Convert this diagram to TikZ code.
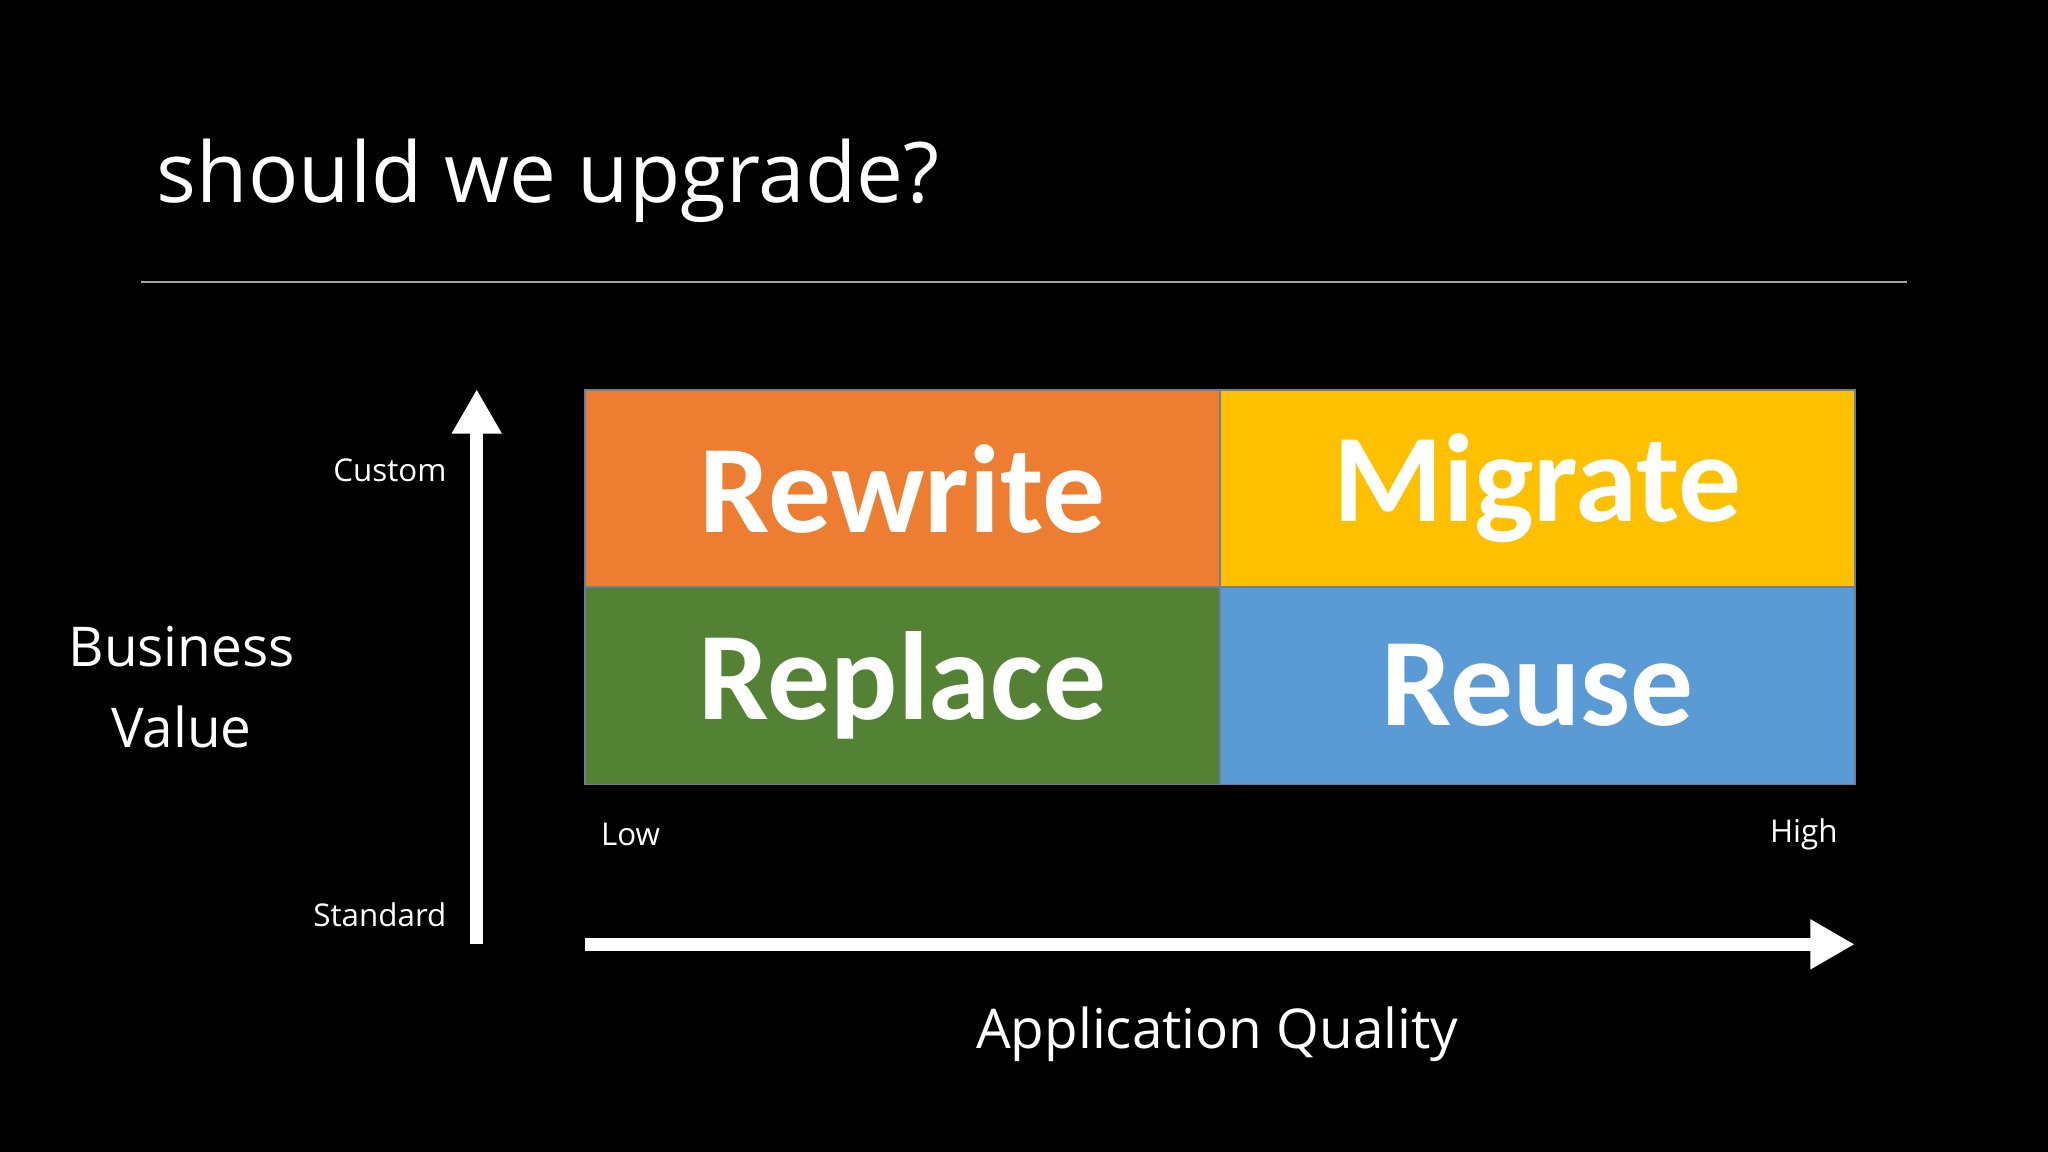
\documentclass[tikz,border=0pt]{standalone}
\usepackage{fontspec}
\setmainfont{Open Sans}
\newfontfamily\boxfont{Carlito}
\usetikzlibrary{arrows.meta}
\definecolor{cOr}{HTML}{ED7D31}
\definecolor{cYe}{HTML}{FFC000}
\definecolor{cGr}{HTML}{548235}
\definecolor{cBl}{HTML}{5B9BD5}
\definecolor{cEdge}{HTML}{6A7FA0}
\begin{document}
\begin{tikzpicture}[x=1pt,y=-1pt,
  cell/.style={draw=cEdge,line width=1.2pt,minimum width=486pt,minimum height=151pt,inner sep=0pt,text=white,font=\boxfont\bfseries\fontsize{96}{96}\selectfont},
  lbl/.style={text=white,font=\fontsize{24}{28}\selectfont,inner sep=0pt},
  big/.style={text=white,font=\fontsize{42}{62}\selectfont,inner sep=0pt,align=center},
  axis/.style={white,line width=10pt,-{Triangle[length=34pt,width=36pt]}}]
\fill[black] (0,0) rectangle (1568,882);
\useasboundingbox (0,0) rectangle (1568,882);
\node[text=white,anchor=base west,inner sep=0pt,font=\fontsize{64}{70}\selectfont] (title) at (120,155) {should we upgrade?};
\coordinate (l1) at (108,216); \coordinate (l2) at (1460,216);
\draw[gray!70,line width=2pt] (l1) -- (l2);
\node[cell,fill=cOr] (rw) at (691,374) {Rewrite};
\node[cell,fill=cYe] (mg) at (1177,374) {Migrate};
\node[cell,fill=cGr] (rp) at (691,525) {Replace};
\node[cell,fill=cBl] (ru) at (1177,525) {Reuse};
\coordinate (v0) at (365,723); \coordinate (v1) at (365,298);
\draw[axis] (v0) -- (v1);
\coordinate (h0) at (448,723); \coordinate (h1) at (1420,723);
\draw[axis] (h0) -- (h1);
\node[lbl,anchor=east] (cu) at (342,360) {Custom};
\node[lbl,anchor=east] (st) at (342,700) {Standard};
\node[lbl,anchor=west] (lo) at (460,639) {Low};
\node[lbl,anchor=east] (hi) at (1407,639) {High};
\node[big] (bv) at (139,526) {Business\\Value};
\node[big] (aq) at (932,792) {Application Quality};
\end{tikzpicture}
\end{document}
